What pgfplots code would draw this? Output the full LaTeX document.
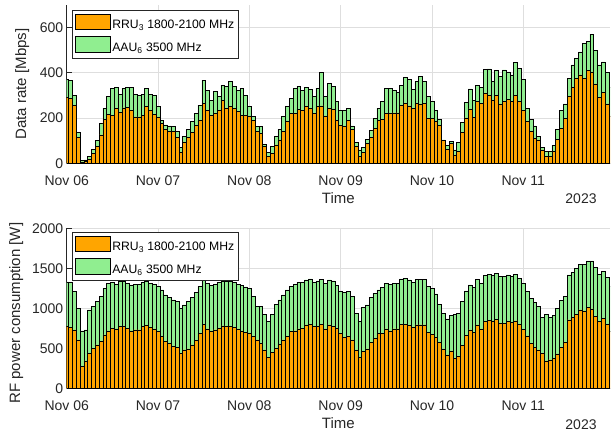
\documentclass[border=0pt]{standalone}
\usepackage{pgfplots}
\pgfplotsset{compat=1.18}
\usepackage{pgfplotstable}
\usepackage{fontspec}
\setmainfont{Liberation Sans}
\definecolor{rruor}{RGB}{255,165,0}
\definecolor{aaugr}{RGB}{144,238,144}
\definecolor{axgray}{RGB}{38,38,38}
\definecolor{gridgray}{RGB}{222,222,222}

\pgfplotstableread{
k rru aau
0 290 80
1 285 82
2 255 45
3 115 20
4 6 6
5 8 7
6 20 10
7 45 15
8 75 25
9 125 50
10 195 48
11 216 78
12 213 118
13 243 92
14 225 80
15 245 86
16 248 87
17 235 100
18 205 100
19 205 95
20 210 95
21 250 80
22 235 68
23 215 85
24 205 45
25 175 15
26 150 20
27 140 25
28 140 22
29 115 25
30 50 20
31 95 25
32 115 35
33 135 50
34 169 51
35 191 66
36 265 102
37 235 88
38 213 66
39 220 96
40 235 59
41 279 66
42 243 95
43 250 110
44 243 95
45 228 95
46 213 118
47 213 88
48 206 44
49 191 15
50 140 22
51 132 30
52 74 11
53 29 18
54 44 32
55 81 37
56 103 47
57 140 66
58 184 66
59 220 67
60 220 111
61 238 103
62 235 88
63 250 85
64 243 83
65 220 74
66 250 81
67 253 147
68 209 88
69 243 110
70 240 100
71 191 81
72 169 66
73 162 73
74 188 55
75 150 15
76 74 17
77 32 27
78 47 22
79 88 18
80 115 29
81 154 44
82 188 55
83 194 78
84 220 111
85 220 111
86 223 100
87 223 89
88 257 88
89 265 114
90 253 117
91 243 83
92 265 95
93 262 120
94 265 98
95 198 96
96 198 74
97 184 51
98 169 25
99 100 3
100 62 16
101 88 8
102 37 22
103 51 40
104 135 47
105 200 68
106 240 88
107 203 76
108 272 73
109 265 70
110 309 106
111 301 116
112 279 81
113 301 108
114 262 120
115 272 140
116 282 122
117 272 118
118 301 144
119 272 147
120 235 135
121 184 59
122 140 54
123 110 55
124 103 15
125 59 12
126 32 19
127 32 19
128 51 28
129 106 44
130 154 81
131 198 64
132 294 81
133 335 99
134 375 88
135 390 102
136 375 154
137 409 128
138 404 166
139 350 150
140 291 143
141 313 135
142 262 138
143 209 126
}\topdata

\pgfplotstableread{
k rru aau
0 770 560
1 758 567
2 729 479
3 604 396
4 271 446
5 342 387
6 438 541
7 500 521
8 542 541
9 583 563
10 667 583
11 717 596
12 750 575
13 742 558
14 771 562
15 771 562
16 750 563
17 717 575
18 729 571
19 729 571
20 771 554
21 783 550
22 758 555
23 742 558
24 708 563
25 646 583
26 583 584
27 563 570
28 521 583
29 508 575
30 438 562
31 479 563
32 492 591
33 542 591
34 600 600
35 688 583
36 800 554
37 742 571
38 717 566
39 729 571
40 750 575
41 779 563
42 771 562
43 771 562
44 758 567
45 742 558
46 717 566
47 700 567
48 688 562
49 646 500
50 604 417
51 563 458
52 479 446
53 383 450
54 450 475
55 500 550
56 550 554
57 604 563
58 646 583
59 708 563
60 717 583
61 742 583
62 750 575
63 792 562
64 800 567
65 771 554
66 775 567
67 800 563
68 742 571
69 792 562
70 771 571
71 750 540
72 688 520
73 633 567
74 646 562
75 604 542
76 479 459
77 383 450
78 458 550
79 492 550
80 575 558
81 625 563
82 688 541
83 688 570
84 742 571
85 717 583
86 742 571
87 742 571
88 800 567
89 800 575
90 783 571
91 758 567
92 792 571
93 792 571
94 792 571
95 700 571
96 675 575
97 633 546
98 575 475
99 492 446
100 417 450
101 467 441
102 375 550
103 396 542
104 533 550
105 658 559
106 729 563
107 700 558
108 792 571
109 742 571
110 833 575
111 850 575
112 842 566
113 863 575
114 813 583
115 813 583
116 833 584
117 825 571
118 842 583
119 800 575
120 738 575
121 654 554
122 563 562
123 508 567
124 479 542
125 438 445
126 342 583
127 354 529
128 375 533
129 430 570
130 510 590
131 575 575
132 854 563
133 883 567
134 925 575
135 979 571
136 967 583
137 1008 584
138 992 600
139 896 612
140 833 592
141 875 583
142 800 583
143 708 563
}\botdata

\pgfplotsset{
  myaxis/.style={
    scale only axis,
    width=543.3pt,
    xmin=0, xmax=142.8,
    ymin=0,
    ybar stacked,
    bar width=1,
    clip mode=individual,
    axis x line*=bottom,
    axis y line*=left,
    axis line style={draw=axgray,line width=0.6pt,-},
    tick style={draw=axgray,line width=0.6pt},
    tick align=inside,
    major tick length=5pt,
    xtick={0,24,48,72,96,120},
    xticklabels={Nov 06,Nov 07,Nov 08,Nov 09,Nov 10,Nov 11},
    xticklabel style={yshift=-9pt},
    grid=major,
    major grid style={draw=gridgray,line width=0.6pt},
    tick label style={font=\fontsize{14}{16}\selectfont, text=axgray},
    /pgf/number format/assume math mode=true,
    /pgf/number format/1000 sep={},
    label style={font=\fontsize{15}{17}\selectfont, text=axgray},
    xlabel={Time},
    xlabel style={at={(axis description cs:0.5,0)}, anchor=center, yshift=-35pt},
    legend cell align=left,
    legend image code/.code={\draw[#1,line width=0.6pt] (0pt,-4pt) rectangle (35pt,11.5pt);},
    legend style={font=\fontsize{12.2}{14}\selectfont, draw=axgray, line width=0.5pt,
      anchor=north west, inner xsep=2.5pt, inner ysep=3pt,
      row sep=4pt},
  },
  rrustyle/.style={fill=rruor, draw=black, line width=0.5pt},
  aaustyle/.style={fill=aaugr, draw=black, line width=0.5pt},
}

\begin{document}
\begin{tikzpicture}
\path[use as bounding box] (0,0) rectangle (611pt,434pt);
\begin{axis}[myaxis,
  at={(66.7pt,270.7pt)}, anchor=south west,
  height=158.6pt,
  ymax=700,
  ytick={0,200,400,600},
  ylabel={Data rate [Mbps]},
  ylabel style={at={(axis description cs:-0.082,0.5)}, anchor=center},
  legend style={at={(0.0097,0.964)}},
]
\addplot[rrustyle] table[x=k,y=rru]{\topdata};
\addplot[aaustyle] table[x=k,y=aau]{\topdata};
\legend{RRU\textsubscript{3} 1800-2100 MHz, AAU\textsubscript{6} 3500 MHz}
\node[font=\fontsize{14}{16}\selectfont, text=axgray, xshift=-29pt, yshift=-35pt] at (rel axis cs:1,0) {2023};
\end{axis}
\begin{axis}[myaxis,
  at={(66.7pt,45.7pt)}, anchor=south west,
  height=160pt,
  ymax=2000,
  ytick={0,500,1000,1500,2000},
  ylabel={RF power consumption [W]},
  ylabel style={at={(axis description cs:-0.093,0.47)}, anchor=center},
  legend style={at={(0.0097,0.975)}},
]
\addplot[rrustyle] table[x=k,y=rru]{\botdata};
\addplot[aaustyle] table[x=k,y=aau]{\botdata};
\legend{RRU\textsubscript{3} 1800-2100 MHz, AAU\textsubscript{6} 3500 MHz}
\node[font=\fontsize{14}{16}\selectfont, text=axgray, xshift=-29pt, yshift=-36pt] at (rel axis cs:1,0) {2023};
\end{axis}
\end{tikzpicture}
\end{document}
